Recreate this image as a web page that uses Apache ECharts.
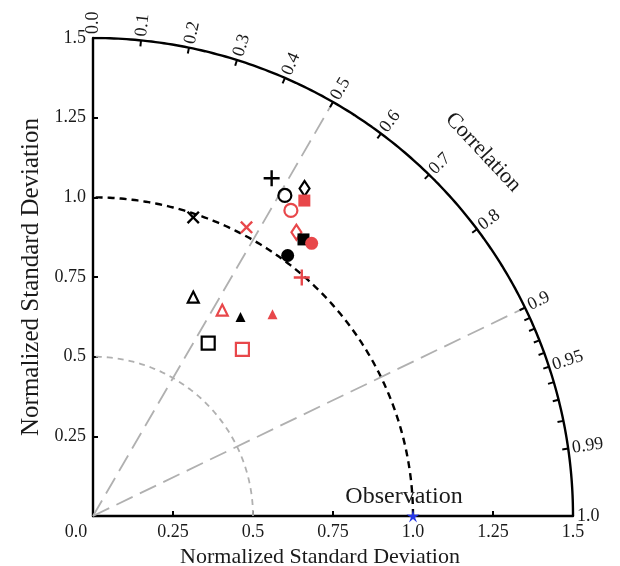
<!DOCTYPE html>
<html><head><meta charset="utf-8">
<script src="https://cdn.jsdelivr.net/npm/echarts@6/dist/echarts.min.js"></script>
<style>html,body{margin:0;padding:0;background:#fff}#c{width:620px;height:566px}</style>
</head><body><div id="c"></div>
<script>
// ---- data ----
const stdTicks = [0, 0.25, 0.5, 0.75, 1.0, 1.25, 1.5];
const stdTickLabels = ['0.0', '0.25', '0.5', '0.75', '1.0', '1.25', '1.5'];
const corrMajor = [0.0, 0.1, 0.2, 0.3, 0.4, 0.5, 0.6, 0.7, 0.8, 0.9, 0.95, 0.99, 1.0];
const corrMajorLabels = ['0.0', '0.1', '0.2', '0.3', '0.4', '0.5', '0.6', '0.7', '0.8', '0.9', '0.95', '0.99', '1.0'];
const corrMinor = [0.91, 0.92, 0.93, 0.94, 0.96, 0.97, 0.98];
const corrRefLines = [0.5, 0.9];
const stdRefArcs = [0.5, 1.0];
const maxStd = 1.5;
const obsStd = 1.0;
const obsCorr = 1.0;
const obsName = 'Observation';
// models: normalized std & correlation
const modelMarker = ['plus', 'circleOpen', 'diamondOpen', 'rectFill', 'circleOpen', 'cross', 'cross', 'diamondOpen', 'rectFill', 'circleFill', 'circleFill', 'plus', 'triOpen', 'triOpen', 'triFill', 'triFill', 'rectOpen', 'rectOpen'];
const modelGroup  = ['black', 'black', 'black', 'red', 'red', 'red', 'black', 'red', 'black', 'red', 'black', 'red', 'black', 'red', 'black', 'red', 'black', 'red'];
const modelStd  = [1.198, 1.171, 1.222, 1.190, 1.141, 1.025, 0.988, 1.094, 1.089, 1.095, 1.019, 0.993, 0.755, 0.762, 0.776, 0.846, 0.651, 0.701];
const modelCorr = [0.466, 0.512, 0.541, 0.555, 0.542, 0.468, 0.317, 0.581, 0.604, 0.624, 0.597, 0.657, 0.415, 0.530, 0.594, 0.663, 0.553, 0.666];

// ---- styles ----
const colors = { black: '#000000', red: '#e8474a' };
const FONT = 'Liberation Serif';
const TXT = '#1a1a1a';
const plusPath = 'path://M-1.2,-8H1.2V-1.2H8V1.2H1.2V8H-1.2V1.2H-8V-1.2H-1.2Z';
const starPath = 'path://M0,-10 L1.8,-2.6 L9.5,-3.1 L3.0,1.1 L5.9,8.1 L0,3.3 L-5.9,8.1 L-3.0,1.1 L-9.5,-3.1 L-1.8,-2.6 Z';
const markerStyle = {
  plus:        { symbol: plusPath, size: 16, rotate: 0, filled: true },
  cross:       { symbol: plusPath, size: 16, rotate: 45, filled: true },
  circleOpen:  { symbol: 'circle', size: 13, rotate: 0, filled: false },
  circleFill:  { symbol: 'circle', size: 13, rotate: 0, filled: true },
  diamondOpen: { symbol: 'diamond', size: [10, 15], rotate: 0, filled: false },
  rectFill:    { symbol: 'rect', size: 12, rotate: 0, filled: true },
  rectOpen:    { symbol: 'rect', size: 13, rotate: 0, filled: false },
  triOpen:     { symbol: 'triangle', size: 11, rotate: 0, filled: false },
  triFill:     { symbol: 'triangle', size: 10, rotate: 0, filled: true }
};

function polarXY(s, c) { const t = Math.acos(c); return [s * Math.cos(t), s * Math.sin(t)]; }
function arcPts(r) { const p = []; for (let a = 0; a <= 90; a += 0.5) { const t = a * Math.PI / 180; p.push([r * Math.cos(t), r * Math.sin(t)]); } return p; }

const series = [];
series.push({ type: 'line', data: arcPts(maxStd), showSymbol: false, symbol: 'none', silent: true, z: 3,
  lineStyle: { color: '#000', width: 2.4 } });
stdRefArcs.forEach(r => {
  const black = r === obsStd;
  series.push({ type: 'line', data: arcPts(r), symbol: 'none', silent: true, z: 2,
    lineStyle: black ? { color: '#000', width: 2.4, type: [7, 5] } : { color: '#b0b0b0', width: 1.8, type: [6, 5] } });
});
corrRefLines.forEach(c => {
  series.push({ type: 'line', data: [[0, 0], polarXY(maxStd, c)], symbol: 'none', silent: true, z: 2,
    lineStyle: { color: '#b0b0b0', width: 1.8, type: [18, 8] } });
});
function corrRender(len, withLabel) {
  return function (params, api) {
    const c = api.value(0);
    const t = Math.acos(c);
    const p = api.coord([maxStd * Math.cos(t), maxStd * Math.sin(t)]);
    const ux = Math.cos(t), uy = -Math.sin(t);
    const children = [{ type: 'line', shape: { x1: p[0], y1: p[1], x2: p[0] - len * ux, y2: p[1] - len * uy },
      style: { stroke: '#000', lineWidth: 2 } }];
    if (withLabel) {
      children.push({ type: 'text', x: p[0] + 4 * ux, y: p[1] + 4 * uy, rotation: t,
        style: { text: corrMajorLabels[params.dataIndex], fontFamily: FONT, fontSize: 18, fill: TXT,
          align: 'left', verticalAlign: 'middle' } });
    }
    return { type: 'group', children: children };
  };
}
series.push({ type: 'custom', coordinateSystem: 'cartesian2d', clip: false, silent: true, z: 4,
  data: corrMajor.map(c => [c]), renderItem: corrRender(6, true) });
series.push({ type: 'custom', coordinateSystem: 'cartesian2d', clip: false, silent: true, z: 4,
  data: corrMinor.map(c => [c]), renderItem: corrRender(6, false) });
series.push({ type: 'custom', coordinateSystem: 'cartesian2d', clip: false, silent: true, z: 4,
  data: [[0.73]], renderItem: function (params, api) {
    const c = api.value(0); const t = Math.acos(c);
    const p = api.coord([1.67 * Math.cos(t), 1.67 * Math.sin(t)]);
    return { type: 'text', x: p[0], y: p[1], rotation: -(Math.PI / 2 - t),
      style: { text: 'Correlation', fontFamily: FONT, fontSize: 22, fill: TXT, align: 'center', verticalAlign: 'middle' } };
  } });
modelStd.forEach((s, i) => {
  const st = markerStyle[modelMarker[i]];
  const col = colors[modelGroup[i]];
  series.push({ type: 'scatter', data: [polarXY(s, modelCorr[i])], symbol: st.symbol, symbolSize: st.size,
    symbolRotate: st.rotate, z: 10, clip: false,
    itemStyle: st.filled ? { color: col, borderWidth: 0, opacity: 1 } : { color: 'rgba(255,255,255,0)', borderColor: col, borderWidth: 2.2, opacity: 1 } });
});
series.push({ type: 'scatter', data: [polarXY(obsStd, obsCorr)], symbol: starPath, symbolSize: 13, z: 11, clip: false,
  itemStyle: { color: '#2536e6', opacity: 1 },
  label: { show: true, position: 'top', formatter: obsName, fontFamily: FONT, fontSize: 24, color: TXT, distance: 1, offset: [-9, 0] } });

const chart = echarts.init(document.getElementById('c'), null, { renderer: 'canvas' });
chart.setOption({
  animation: false,
  backgroundColor: '#fff',
  grid: { left: 93, right: 47, top: 38, bottom: 50, containLabel: false, outerBoundsMode: 'none' },
  xAxis: { type: 'value', min: 0, max: maxStd, interval: 0.25,
    name: 'Normalized Standard Deviation', nameLocation: 'middle', nameGap: 23,
    nameTextStyle: { fontFamily: FONT, fontSize: 22, color: TXT, padding: [0, 26, 0, 0] },
    axisLine: { show: true, onZero: false, lineStyle: { color: '#000', width: 2.4 } },
    axisTick: { show: true, inside: true, length: 5, lineStyle: { color: '#000', width: 2 } },
    splitLine: { show: false },
    axisLabel: { fontFamily: FONT, fontSize: 18, color: TXT, margin: 7,
      formatter: v => { const k = stdTicks.indexOf(v); const s = k >= 0 ? stdTickLabels[k] : ''; return v === 0 ? '{z|' + s + '}' : s; },
      rich: { z: { fontFamily: FONT, fontSize: 18, color: TXT, padding: [0, 34, 0, 0] } } } },
  yAxis: { type: 'value', min: 0, max: maxStd, interval: 0.25,
    name: 'Normalized Standard Deviation', nameLocation: 'middle', nameGap: 46,
    nameTextStyle: { fontFamily: FONT, fontSize: 25, color: TXT },
    axisLine: { show: true, onZero: false, lineStyle: { color: '#000', width: 2.4 } },
    axisTick: { show: true, inside: true, length: 5, lineStyle: { color: '#000', width: 2 } },
    splitLine: { show: false },
    axisLabel: { fontFamily: FONT, fontSize: 18, color: TXT, margin: 7, showMinLabel: false,
      formatter: v => { const k = stdTicks.indexOf(v); return k > 0 ? stdTickLabels[k] : ''; } } },
  series: series
});
</script></body></html>
